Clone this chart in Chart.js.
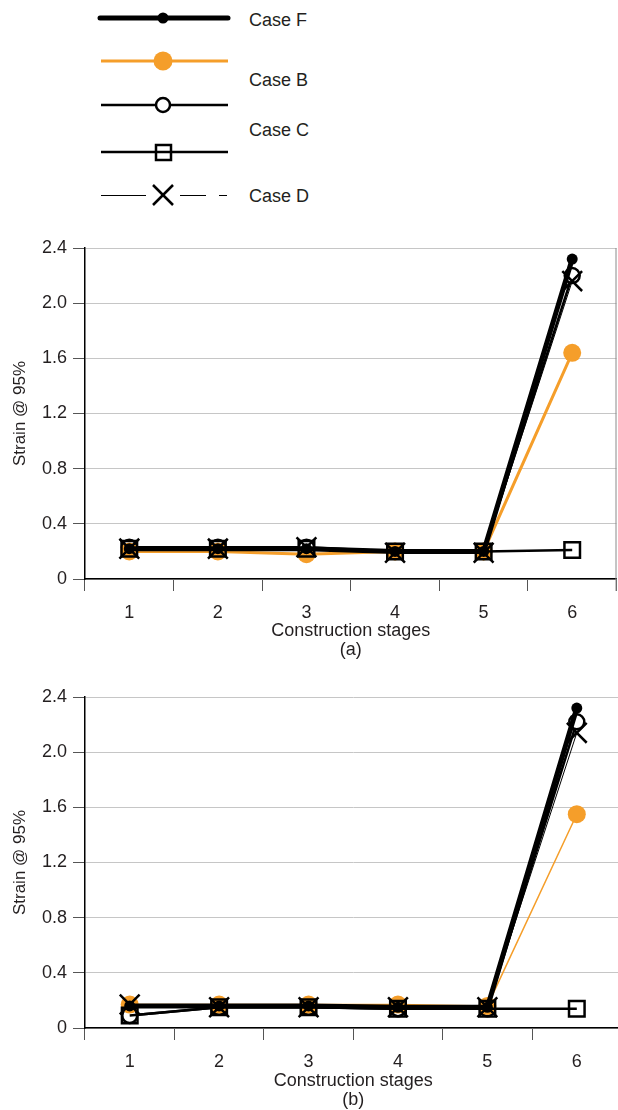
<!DOCTYPE html>
<html>
<head>
<meta charset="utf-8">
<script src="https://cdn.jsdelivr.net/npm/chart.js@4.4.1/dist/chart.umd.min.js"></script>
<style>
  html, body { margin:0; padding:0; background:#fff; width:618px; height:1110px; overflow:hidden; position:relative;
    font-family:'Liberation Sans', Arial, sans-serif; color:#231f20; }
  #key { position:absolute; left:0; top:0; }
  .lbl { position:absolute; left:249px; font-size:18px; line-height:18px; transform:translateY(-50%); white-space:nowrap; }
  canvas { position:absolute; left:0; }
  #chartA { top:225px; }
  #chartB { top:675px; }
</style>
</head>
<body>

<!-- legend block: five symbols, four labels -->
<svg id="key" width="618" height="215">
  <line x1="100" y1="18" x2="228" y2="18" stroke="#000" stroke-width="5" stroke-linecap="round"/>
  <circle cx="163" cy="18" r="5.5" fill="#000"/>
  <line x1="101" y1="61" x2="228" y2="61" stroke="#f59e2a" stroke-width="3"/>
  <circle cx="163" cy="61" r="9.5" fill="#f59e2a"/>
  <line x1="101" y1="105" x2="228" y2="105" stroke="#000" stroke-width="2.5"/>
  <circle cx="163" cy="105" r="7" fill="#fff" stroke="#000" stroke-width="2.5"/>
  <line x1="101" y1="152" x2="228" y2="152" stroke="#000" stroke-width="2.5"/>
  <rect x="156" y="145" width="15" height="15" fill="none" stroke="#000" stroke-width="2.5"/>
  <line x1="101" y1="195.5" x2="146" y2="195.5" stroke="#000" stroke-width="1"/>
  <line x1="180" y1="195.5" x2="206" y2="195.5" stroke="#000" stroke-width="1"/>
  <line x1="219" y1="195.5" x2="227" y2="195.5" stroke="#000" stroke-width="1"/>
  <line x1="153" y1="185" x2="173" y2="205" stroke="#000" stroke-width="2.5"/>
  <line x1="173" y1="185" x2="153" y2="205" stroke="#000" stroke-width="2.5"/>
</svg>
<div class="lbl" style="top:20px">Case F</div>
<div class="lbl" style="top:80px">Case B</div>
<div class="lbl" style="top:130px">Case C</div>
<div class="lbl" style="top:196px">Case D</div>

<!-- canvases run a little past the right edge; the x scale keeps ~15px spare on its right -->
<canvas id="chartA" width="633" height="435"></canvas>
<canvas id="chartB" width="638" height="435"></canvas>

<script>
// construction stages and axis range
const stages = ['1', '2', '3', '4', '5', '6'];
const yMin = 0, yMax = 2.4, yStep = 0.4;

// panel (a)
const aCaseF   = [0.22, 0.22, 0.22, 0.20, 0.20, 2.32];
const aCaseB   = [0.20, 0.20, 0.18, 0.20, 0.20, 1.64];
const aCircle  = [0.23, 0.23, 0.23, 0.20, 0.20, 2.20];
const aSquare  = [0.22, 0.22, 0.22, 0.20, 0.20, 0.21];
const aCaseD   = [0.22, 0.22, 0.23, 0.19, 0.19, 2.16];

// panel (b)
const bCaseF   = [0.16, 0.16, 0.16, 0.15, 0.15, 2.32];
const bCaseB   = [0.17, 0.17, 0.17, 0.17, 0.16, 1.55];
const bCircle  = [0.09, 0.15, 0.15, 0.14, 0.14, 2.22];
const bSquare  = [0.09, 0.15, 0.15, 0.14, 0.14, 0.14];
const bCaseD   = [0.17, 0.15, 0.15, 0.15, 0.15, 2.14];

const ORANGE = '#f59e2a';
const FONT = "'Liberation Sans', Arial, sans-serif";
Chart.defaults.font.family = FONT;
Chart.defaults.color = '#231f20';

// datasets; higher `order` is painted first (underneath)
function series(F, B, circ, sq, D, orangeWidth) {
    return [
        {label:'Case F', data:F, borderColor:'#000', backgroundColor:'#000', borderWidth:5,
         pointStyle:'circle', pointRadius:5.5, pointBorderWidth:0, order:3},
        {label:'Case B', data:B, borderColor:ORANGE, backgroundColor:ORANGE, borderWidth:orangeWidth,
         pointStyle:'circle', pointRadius:9, pointBorderWidth:0, order:4},
        {label:'Case C', data:circ, borderColor:'#000', backgroundColor:'#fff', borderWidth:2.5,
         pointStyle:'circle', pointRadius:7.5, pointBorderWidth:2.5, order:5},
        {label:'Case E', data:sq, borderColor:'#000', backgroundColor:'rgba(0,0,0,0)', borderWidth:2.5,
         pointStyle:'rect', pointRadius:11, pointBorderWidth:2.5, order:2},
        {label:'Case D', data:D, borderColor:'#000', backgroundColor:'rgba(0,0,0,0)', borderWidth:1,
         pointStyle:'crossRot', pointRadius:14, pointBorderWidth:2.5, order:1}
    ];
}

// thin grey frame on the right edge of the plot area
const rightFrame = {
    id:'rightFrame',
    afterDraw(chart) {
        const a = chart.chartArea, ctx = chart.ctx;
        ctx.save();
        ctx.strokeStyle = '#8a8a8a';
        ctx.lineWidth = 1;
        ctx.beginPath();
        ctx.moveTo(a.right - 0.5, a.top);
        ctx.lineTo(a.right - 0.5, a.bottom + 12);
        ctx.stroke();
        ctx.restore();
    }
};

function cfg(datasets, tag, padTop, xHeight, plugins) {
    return {
        type:'line',
        data:{labels:stages, datasets},
        options:{
            responsive:false, animation:false,
            layout:{padding:{top:padTop, right:2, left:0, bottom:0}},
            plugins:{legend:{display:false}, tooltip:{enabled:false}},
            elements:{line:{tension:0}},
            scales:{
                x:{
                    offset:true,
                    afterFit(s) { s.height = xHeight; },
                    grid:{offset:true, drawOnChartArea:false, tickLength:12, color:'#555', lineWidth:1},
                    border:{color:'#000', width:1.5},
                    ticks:{padding:11, font:{size:18}, color:'#231f20'},
                    title:{display:true, text:['Construction stages', tag], font:{size:18, lineHeight:1.06},
                           padding:{top:0, bottom:0}, color:'#231f20'}
                },
                y:{
                    min:yMin, max:yMax,
                    afterFit(s) { s.width = 85; },
                    ticks:{stepSize:yStep, padding:6, font:{size:18}, color:'#231f20',
                           callback:v => v === 0 ? '0' : v.toFixed(1)},
                    grid:{color:'#c6c6c6', tickColor:'#555', tickLength:12, lineWidth:1},
                    border:{color:'#000', width:1.5},
                    title:{display:true, text:'Strain @ 95%', font:{size:17}, padding:{top:10, bottom:0}, color:'#231f20'}
                }
            }
        },
        plugins
    };
}

new Chart(document.getElementById('chartA'),
    cfg(series(aCaseF, aCaseB, aCircle, aSquare, aCaseD, 3), '(a)', 23, 81, [rightFrame]));
new Chart(document.getElementById('chartB'),
    cfg(series(bCaseF, bCaseB, bCircle, bSquare, bCaseD, 1.5), '(b)', 22, 82, []));
</script>
</body>
</html>
